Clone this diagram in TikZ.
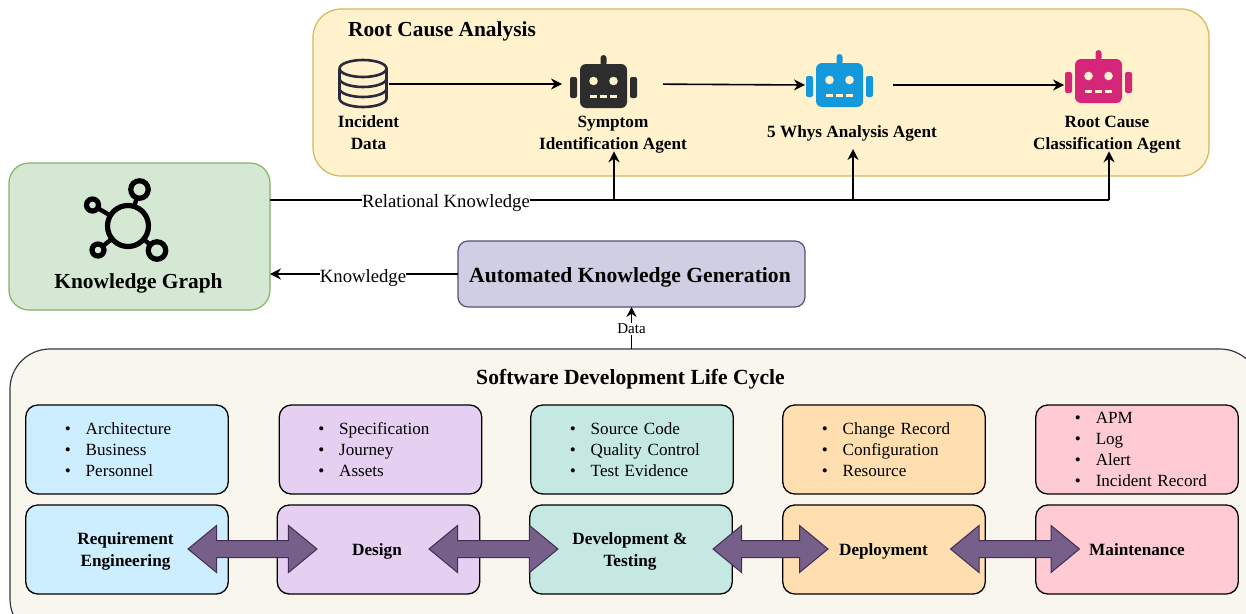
\documentclass[tikz,border=0pt]{standalone}
\usepackage{fontspec}
\setmainfont{Liberation Serif}
\usetikzlibrary{arrows.meta,positioning,shapes.arrows}
\definecolor{rootfill}{HTML}{fff2cc}
\definecolor{rootline}{HTML}{d6b656}
\definecolor{graphfill}{HTML}{d5e8d4}
\definecolor{graphline}{HTML}{82b366}
\definecolor{genfill}{HTML}{d0cee2}
\definecolor{genline}{HTML}{56517e}
\definecolor{cyclefill}{HTML}{f9f6ee}
\definecolor{cycleline}{HTML}{36393d}
\definecolor{reqcolor}{HTML}{cdeeff}
\definecolor{designcolor}{HTML}{e5d0f2}
\definecolor{devcolor}{HTML}{c5e8e3}
\definecolor{deploycolor}{HTML}{ffdfb0}
\definecolor{maintcolor}{HTML}{ffcbd2}
\definecolor{arrowfill}{HTML}{76608a}
\definecolor{arrowline}{HTML}{432d57}
\definecolor{dbcolor}{HTML}{2a2a3c}
\definecolor{robotdark}{HTML}{2d2d2d}
\definecolor{robotblue}{HTML}{1499dc}
\definecolor{robotpink}{HTML}{d5267a}
\newcommand{\entry}[1]{\mbox{\textbullet\hspace{15pt}#1}}
\tikzset{
    panel/.style={
        shape=rectangle,
        outer sep=0pt,
        line width=1.2pt
    },
    info/.style={
        shape=rectangle,
        draw=black,
        line width=1.3pt,
        rounded corners=12pt,
        outer sep=0pt,
        minimum width=202.5pt,
        minimum height=89pt,
        inner xsep=39pt,
        inner ysep=0pt,
        text width=124.5pt,
        align=left,
        font=\fontsize{17.1pt}{21pt}\selectfont
    },
    stage/.style={
        shape=rectangle,
        draw=black,
        line width=1.3pt,
        rounded corners=12pt,
        outer sep=0pt,
        minimum width=202.5pt,
        minimum height=89pt
    },
    exchange/.style={
        shape=double arrow,
        draw=arrowline,
        fill=arrowfill,
        line width=1pt,
        inner sep=8pt,
        minimum height=129pt,
        minimum width=46pt,
        double arrow head extend=15pt,
        double arrow tip angle=79
    },
    agentlabel/.style={
        align=center,
        inner sep=0pt,
        font=\fontsize{17.2pt}{22pt}\selectfont\bfseries
    },
    title/.style={
        inner sep=0pt,
        font=\fontsize{21.4pt}{26pt}\selectfont\bfseries
    },
    slot/.style={
        shape=rectangle,
        inner sep=0pt,
        outer sep=0pt
    },
    transition/.style={
        line width=1.6pt,
        -{Stealth[length=11pt,width=11pt]}
    },
    tag/.style={
        fill=white,
        inner xsep=0pt,
        inner ysep=1pt,
        font=\fontsize{18.7pt}{22pt}\selectfont
    },
    ring/.style={
        shape=circle,
        draw=black,
        line width=5.2pt,
        inner sep=0pt,
        outer sep=0pt
    },
    robot/.pic={
        \fill[#1, rounded corners=6pt] (-23.5,-22) rectangle (23.5,22);
        \fill[#1, rounded corners=3pt] (-3,-31) rectangle (3,-20);
        \fill[#1, rounded corners=2pt] (-33.5,-9) rectangle (-26.5,12);
        \fill[#1, rounded corners=2pt] (26.5,-9) rectangle (33.5,12);
        \fill[rootfill] (-10,-5) circle [radius=4.3];
        \fill[rootfill] (10,-5) circle [radius=4.3];
        \foreach \xd in {-10,0,10}
            \fill[rootfill] (\xd-3.5,8.5) rectangle (\xd+3.5,11.5);
    },
    database/.pic={
        \draw[dbcolor, line width=2.6pt]
            (-23.5,-15.5) arc [start angle=180, end angle=-180, x radius=23.5, y radius=8.5]
            (-23.5,-15.5) -- (-23.5,14.5) arc [start angle=180, end angle=0, x radius=23.5, y radius=8.5]
            -- (23.5,-15.5)
            (-23.5,-5.5) arc [start angle=180, end angle=0, x radius=23.5, y radius=8.5]
            (-23.5,4.5) arc [start angle=180, end angle=0, x radius=23.5, y radius=8.5];
    }
}

\begin{document}
\begin{tikzpicture}[x=1pt, y=-1pt]
    \path[use as bounding box, clip] (0,0) rectangle (1246,613);

    % panels
    \node[panel, draw=rootline, fill=rootfill, rounded corners=28pt,
        minimum width=896pt, minimum height=167pt] (root) at (761,92.5) {};
    \node[panel, draw=graphline, fill=graphfill, rounded corners=20pt,
        minimum width=261pt, minimum height=147pt] (graph) at (139.5,236.5) {};
    \node[panel, draw=genline, fill=genfill, rounded corners=10pt,
        minimum width=347pt, minimum height=66pt] (gen) at (631.5,274) {};
    \node[title, font=\fontsize{21.6pt}{26pt}\selectfont\bfseries] (gentitle) at (630,277) {Automated Knowledge Generation};
    \node[panel, draw=cycleline, fill=cyclefill, rounded corners=40pt,
        minimum width=1250pt, minimum height=290pt] (cycle) at (635,494) {};

    \node[title] (roottitle) at (442,31) {Root Cause Analysis};
    \node[title, font=\fontsize{21.6pt}{26pt}\selectfont\bfseries] (cycletitle) at (630.5,379) {Software Development Life Cycle};

    % root cause row
    \node[slot, minimum width=50pt, minimum height=50pt] (db) at (363,84) {};
    \node[slot, minimum width=67pt, minimum height=54pt] (symptom) at (603.5,84) {};
    \node[slot, minimum width=67pt, minimum height=54pt] (whys) at (839.5,85) {};
    \node[slot, minimum width=67pt, minimum height=54pt] (cause) at (1098.5,85) {};
    \pic at (db) {database};
    \pic at (603.5,86) {robot=robotdark};
    \pic at (839.5,85) {robot=robotblue};
    \pic at (1098.5,81) {robot=robotpink};

    \node[agentlabel] (dblabel) at (368.5,132.5) {Incident\\Data};
    \node[agentlabel] (symptomlabel) at (613,134.5) {Symptom\\Identification Agent};
    \node[agentlabel] (whyslabel) at (852,133) {5 Whys Analysis Agent};
    \node[agentlabel] (causelabel) at (1107,134.5) {Root Cause\\Classification Agent};

    \draw[transition, shorten <=1pt, shorten >=8pt] (db.east) to (db.east -| symptom.west);
    \draw[transition, shorten <=26pt] (symptom.east) to ([xshift=-1pt]whys.west);
    \draw[transition, shorten <=20pt] (whys.east) to ([xshift=-1pt]cause.west);

    % knowledge graph
    \node[ring, minimum size=41pt] (hub) at (128,226) {};
    \node[ring, minimum size=17.5pt] (leafa) at (139.5,189.5) {};
    \node[ring, minimum size=12pt] (leafb) at (92.5,205) {};
    \node[ring, minimum size=12pt] (leafc) at (98,250) {};
    \node[ring, minimum size=17.5pt] (leafd) at (157,250.5) {};
    \foreach \leaf in {leafa,leafb,leafc,leafd}
        \draw[line width=4.4pt] (hub) -- (\leaf);
    \node[title] (graphlabel) at (138.5,283) {Knowledge Graph};

    % knowledge flows
    \coordinate (relone) at (614,200);
    \coordinate (reltwo) at (853,200);
    \coordinate (relthree) at (1109,200);
    \draw[line width=1.6pt] (graph.east |- relone) -- (relone) -- (reltwo) -- (relthree);
    \node[tag] (reltag) at (446,203) {Relational Knowledge};
    \draw[transition, shorten >=-2pt] (relone) to (relone |- symptomlabel.south);
    \draw[transition] (reltwo) to (reltwo |- 0,149);
    \draw[transition, shorten >=-2pt] (relthree) to (relthree |- causelabel.south);

    \draw[transition] (gen.west) to (graph.east |- gen.west);
    \node[tag] (gentag) at (363,278) {Knowledge};
    \draw[transition, line width=1pt, {-{Stealth[length=10pt,width=10pt]}}]
        (gen.south |- cycle.north) to (gen.south);
    \node[fill=white, inner xsep=0pt, inner ysep=1pt,
        font=\fontsize{15pt}{18pt}\selectfont] (datatag) at (631.5,329) {Data};

    % life cycle details
    \node[info, fill=reqcolor] (inforeq) at (127,449.5)
        {\entry{Architecture}\\\entry{Business}\\\entry{Personnel}};
    \node[info, fill=designcolor, right=51pt of inforeq] (infodesign)
        {\entry{Specification}\\\entry{Journey}\\\entry{Assets}};
    \node[info, fill=devcolor, right=49pt of infodesign] (infodev)
        {\entry{Source Code}\\\entry{Quality Control}\\\entry{Test Evidence}};
    \node[info, fill=deploycolor, right=49.5pt of infodev] (infodeploy)
        {\entry{Change Record}\\\entry{Configuration}\\\entry{Resource}};
    \node[info, fill=maintcolor, right=50.5pt of infodeploy] (infomaint)
        {\entry{APM}\\\entry{Log}\\\entry{Alert}\\\entry{Incident Record}};

    % life cycle stages
    \node[stage, fill=reqcolor, below=11pt of inforeq] (req) {};
    \node[stage, fill=designcolor, right=49pt of req] (design) {};
    \node[stage, fill=devcolor, right=50pt of design] (dev) {};
    \node[stage, fill=deploycolor, right=50.5pt of dev] (deploy) {};
    \node[stage, fill=maintcolor, right=50.5pt of deploy] (maint) {};

    \node[agentlabel] (reqlabel) at (125.5,551.5) {Requirement\\Engineering};
    \node[agentlabel] (designlabel) at (377,551.5) {Design};
    \node[agentlabel] (devlabel) at (630,551.5) {Development \&\\Testing};
    \node[agentlabel] (deploylabel) at (883.5,551.5) {Deployment};
    \node[agentlabel] (maintlabel) at (1137,549.5) {Maintenance};

    \node[exchange] (reqdesign) at (252.5,549) {};
    \node[exchange] (designdev) at (493.5,549) {};
    \node[exchange, minimum height=115pt] (devdeploy) at (770.5,549) {};
    \node[exchange] (deploymaint) at (1015,549) {};
\end{tikzpicture}
\end{document}
